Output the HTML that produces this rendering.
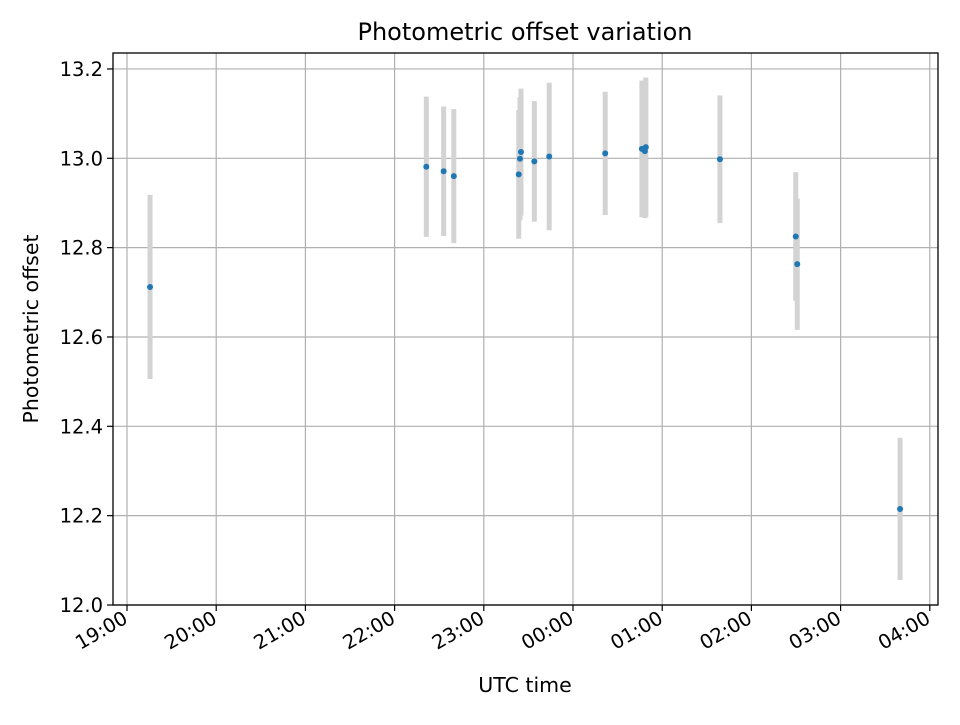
<!DOCTYPE html>
<html><head><meta charset="utf-8"><style>
body{margin:0;background:#fff;font-family:"Liberation Sans","DejaVu Sans",sans-serif}
svg text{font-family:"DejaVu Sans","Liberation Sans",sans-serif}
</style></head><body>
<svg id="chart" width="960" height="720" viewBox="0 0 960 720" xmlns="http://www.w3.org/2000/svg">
<rect width="960" height="720" fill="#fff"/>
<text x="525" y="40" font-size="24" text-anchor="middle" fill="#000">Photometric offset variation</text>
<text x="525" y="692" font-size="20.5" text-anchor="middle" fill="#000">UTC time</text>
<text x="38" y="329" font-size="20.5" text-anchor="middle" fill="#000" transform="rotate(-90 38 329)">Photometric offset</text>
<g id="grid"></g><g id="errs"></g><g id="pts"></g><g id="axes"></g>
</svg>
<script>
const times=["19:15:30","22:21:20","22:33:00","22:39:50","23:23:30","23:24:20","23:25:00","23:34:00","23:44:00","00:21:40","00:46:20","00:49:00","00:48:20","01:38:50","02:29:50","02:30:50","03:40:00"];
const offsets=[12.712,12.981,12.971,12.960,12.964,12.999,13.014,12.993,13.004,13.011,13.021,13.025,13.016,12.998,12.825,12.763,12.215];
const errors=[0.206,0.157,0.145,0.150,0.144,0.138,0.142,0.135,0.165,0.138,0.153,0.156,0.150,0.143,0.144,0.147,0.159];
const xTicks=["19:00","20:00","21:00","22:00","23:00","00:00","01:00","02:00","03:00","04:00"];
const yTicks=[12.0,12.2,12.4,12.6,12.8,13.0,13.2];
const L=113,R=938,T=53,B=605;
function hrs(s){const p=s.split(":").map(Number);let h=p[0]+(p[1]||0)/60+(p[2]||0)/3600-19;if(h<0)h+=24;return h;}
const X=h=>127+h*89.2;
const Y=v=>605-(v-12)*446.7;
const NS="http://www.w3.org/2000/svg";
function mk(t,a,parent){const e=document.createElementNS(NS,t);for(const k in a)e.setAttribute(k,a[k]);document.getElementById(parent).appendChild(e);return e;}
xTicks.forEach(t=>{const x=X(hrs(t));
const g=mk("line",{x1:x,x2:x,y1:T,y2:B,stroke:"#b0b0b0","stroke-width":1.2},"grid");


const tk=mk("line",{x1:x,x2:x,y1:B,y2:B+6,stroke:"#000","stroke-width":1.2},"axes");


const tx=mk("text",{x:x+2,y:B+17,"font-size":19.5,"text-anchor":"end",transform:`rotate(-30 ${x+2} ${B+17})`},"axes");
tx.textContent=t;

});
yTicks.forEach(v=>{const y=Y(v);
const g=mk("line",{x1:L,x2:R,y1:y,y2:y,stroke:"#b0b0b0","stroke-width":1.2},"grid");


const tk=mk("line",{x1:L-6,x2:L,y1:y,y2:y,stroke:"#000","stroke-width":1.2},"axes");


const tx=mk("text",{x:L-10,y:y+7,"font-size":19.5,"text-anchor":"end"},"axes");
tx.textContent=v.toFixed(1);

});
const fr=mk("rect",{x:L,y:T,width:R-L,height:B-T,fill:"none",stroke:"#000","stroke-width":1.3},"axes");


times.forEach((t,i)=>{const x=X(hrs(t));
const e=mk("line",{x1:x,x2:x,y1:Y(offsets[i]+errors[i]),y2:Y(offsets[i]-errors[i]),stroke:"#d3d3d3","stroke-width":5},"errs");


const c=mk("circle",{cx:x,cy:Y(offsets[i]),r:3,fill:"#1f77b4"},"pts");

});
</script>
</body></html>
